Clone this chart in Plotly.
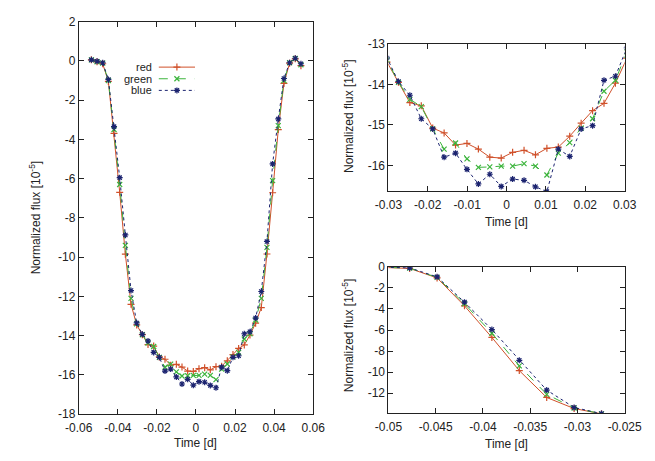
import plotly.graph_objects as go

# time grid [d]
time = [-0.05355, -0.05065, -0.04775, -0.04485, -0.04195, -0.03905, -0.03615, -0.03325,
        -0.03035, -0.02745, -0.02455, -0.02165, -0.01875, -0.01585, -0.01295, -0.01005,
        -0.00715, -0.00425, -0.00135, 0.00155, 0.00445, 0.00735, 0.01025, 0.01315,
        0.01605, 0.01895, 0.02185, 0.02475, 0.02765, 0.03055, 0.03345, 0.03635,
        0.03925, 0.04215, 0.04505, 0.04795, 0.05085, 0.05375]

red = [0.05, -0.05, -0.15, -1.05, -3.7, -6.7, -9.85, -12.4,
       -13.45, -13.95, -14.45, -14.53, -15.08, -15.2, -15.5, -15.46,
       -15.6, -15.8, -15.82, -15.68, -15.63, -15.74, -15.58, -15.55,
       -15.28, -14.96, -14.65, -14.47, -13.97, -13.36, -12.57, -9.84,
       -6.72, -3.5, -1.15, -0.12, 0.1, -0.25]

green = [0.05, -0.05, -0.12, -1.0, -3.5, -6.3, -9.4, -12.1,
         -13.4, -13.95, -14.37, -14.55, -15.1, -15.6, -15.45, -15.84,
         -16.05, -16.04, -16.02, -16.02, -15.96, -16.02, -16.24, -15.7,
         -15.44, -15.08, -14.85, -14.17, -13.9, -13.2, -12.1, -9.5,
         -6.1, -3.3, -1.0, -0.1, 0.12, -0.2]

blue = [0.05, -0.02, -0.1, -0.95, -3.35, -5.95, -8.87, -11.7,
        -13.35, -13.93, -14.27, -14.85, -15.1, -15.8, -15.7, -16.1,
        -16.46, -16.22, -16.52, -16.34, -16.37, -16.53, -16.65, -15.6,
        -15.78, -15.1, -15.02, -13.9, -13.8, -13.1, -11.75, -9.2,
        -5.25, -2.96, -0.9, -0.1, 0.13, -0.15]

series_names = ["red", "green", "blue"]
series_colors = ["#d0502a", "#3cb43c", "#1c2470"]
series_dash = ["solid", "dash", "dot"]
series_symbol = ["cross-thin-open", "x-thin-open", "asterisk-open"]

left_xticks = [-0.06, -0.04, -0.02, 0, 0.02, 0.04, 0.06]
left_xtext = ["-0.06", "-0.04", "-0.02", "0", "0.02", "0.04", "0.06"]
left_yticks = [2, 0, -2, -4, -6, -8, -10, -12, -14, -16, -18]
tr_xticks = [-0.03, -0.02, -0.01, 0, 0.01, 0.02, 0.03]
tr_xtext = ["-0.03", "-0.02", "-0.01", "0", "0.01", "0.02", "0.03"]
tr_yticks = [-13, -14, -15, -16]
br_xticks = [-0.05, -0.045, -0.04, -0.035, -0.03, -0.025]
br_xtext = ["-0.05", "-0.045", "-0.04", "-0.035", "-0.03", "-0.025"]
br_yticks = [0, -2, -4, -6, -8, -10, -12]

W, H = 655, 461
def px(x): return x / W
def py(y): return (H - y) / H

fig = go.Figure()
values = [red, green, blue]
for xa, ya in [("x", "y"), ("x2", "y2"), ("x3", "y3")]:
    for i, name in enumerate(series_names):
        fig.add_trace(go.Scatter(
            x=time, y=values[i], name=name, xaxis=xa, yaxis=ya,
            mode="lines+markers",
            line=dict(color=series_colors[i], width=1, dash=series_dash[i]),
            marker=dict(symbol=series_symbol[i], size=5,
                        line=dict(color=series_colors[i], width=1.2),
                        color=series_colors[i]),
            showlegend=False,
        ))

# custom gnuplot-style key (text left, sample right) on a full-page pixel axis
key_rows = [62, 74, 86]
for i, name in enumerate(series_names):
    y = H - key_rows[i]
    fig.add_trace(go.Scatter(
        x=[152, 190], y=[y, y], xaxis="x4", yaxis="y4", mode="lines",
        line=dict(color=series_colors[i], width=1, dash=series_dash[i]),
        showlegend=False, hoverinfo="skip"))
    fig.add_trace(go.Scatter(
        x=[171], y=[y], xaxis="x4", yaxis="y4", mode="markers",
        marker=dict(symbol=series_symbol[i], size=5,
                    line=dict(color=series_colors[i], width=1.2), color=series_colors[i]),
        showlegend=False, hoverinfo="skip"))
    fig.add_annotation(xref="x4", yref="y4", x=147, y=y, text=name, showarrow=False,
                       xanchor="right", yanchor="middle", height=12,
                       font=dict(family="Liberation Sans, Arial", size=11, color="#222"))

axis_common = dict(showline=True, linecolor="#222", linewidth=1, mirror="ticks",
                   ticks="inside", ticklen=5, tickcolor="#222", showgrid=False,
                   zeroline=False, tickfont=dict(family="Liberation Sans, Arial", size=12, color="#222"))

fig.update_layout(
    width=W, height=H, margin=dict(l=0, r=0, t=0, b=0),
    paper_bgcolor="white", plot_bgcolor="rgba(0,0,0,0)",
    font=dict(family="Liberation Sans, Arial", size=12, color="#222"),
    showlegend=False,
    xaxis=dict(domain=[px(68), px(314)], range=[-0.06, 0.06], anchor="y",
               tickvals=left_xticks, ticktext=left_xtext, ticklabelstandoff=2, **axis_common),
    yaxis=dict(domain=[py(420), py(15)], range=[-18, 2], anchor="x",
               tickvals=left_yticks, ticktext=[str(v) for v in left_yticks], **axis_common),
    xaxis2=dict(domain=[px(393), px(641)], range=[-0.03, 0.03], anchor="y2",
                tickvals=tr_xticks, ticktext=tr_xtext, ticklabelstandoff=2, **axis_common),
    yaxis2=dict(domain=[py(190), py(38)], range=[-16.64, -13], anchor="x2",
                tickvals=tr_yticks, ticktext=[str(v) for v in tr_yticks], **axis_common),
    xaxis3=dict(domain=[px(393), px(641)], range=[-0.05, -0.025], anchor="y3",
                tickvals=br_xticks, ticktext=br_xtext, ticklabelstandoff=2, **axis_common),
    yaxis3=dict(domain=[py(419), py(268)], range=[-13.9, 0], anchor="x3",
                tickvals=br_yticks, ticktext=[str(v) for v in br_yticks], **axis_common),
    xaxis4=dict(domain=[0, 1], range=[0, W], visible=False, anchor="y4", fixedrange=True),
    yaxis4=dict(domain=[0, 1], range=[0, H], visible=False, anchor="x4", fixedrange=True),
)

title_font = dict(family="Liberation Sans, Arial", size=12, color="#222")
ann = [
    dict(x=px(191), y=py(450), text="Time [d]"),
    dict(x=px(517), y=py(222), text="Time [d]"),
    dict(x=px(517), y=py(451), text="Time [d]"),
    dict(x=px(22), y=py(217), text="Normalized flux [10<sup>-5</sup>]", textangle=-90),
    dict(x=px(350), y=py(112), text="Normalized flux [10<sup>-5</sup>]", textangle=-90),
    dict(x=px(350), y=py(338), text="Normalized flux [10<sup>-5</sup>]", textangle=-90),
]
for a in ann:
    fig.add_annotation(xref="paper", yref="paper", showarrow=False,
                       xanchor="center", yanchor="middle", font=title_font, **a)

fig.write_html("out.html")
